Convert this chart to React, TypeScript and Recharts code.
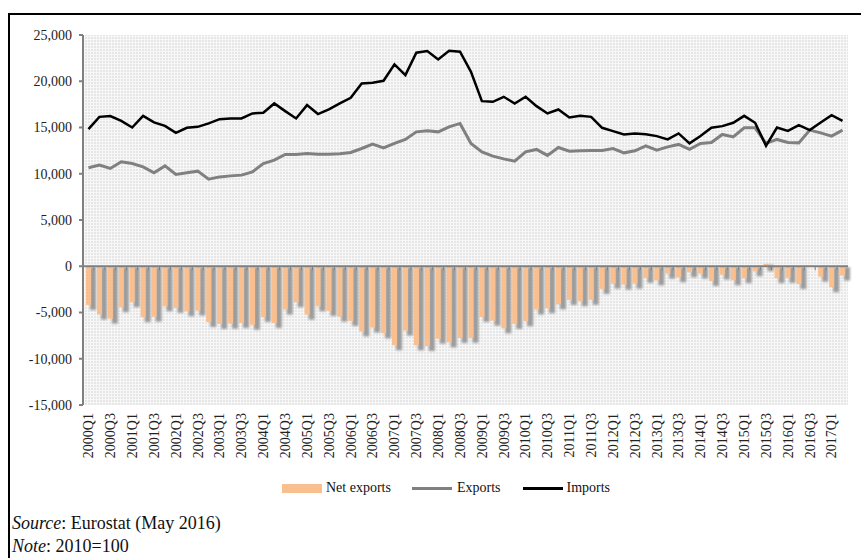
import { ComposedChart, Bar, Line, XAxis, YAxis, CartesianGrid, ReferenceLine } from 'recharts';

// quarterly series, 2000Q1 - 2017Q2
const quarters: string[] = [];
for (let y = 2000; y <= 2017; y++) {
  for (let q = 1; q <= 4; q++) {
    if (y === 2017 && q > 2) break;
    quarters.push(`${y}Q${q}`);
  }
}

const exportsValues = [
  10640, 10930, 10570, 11290, 11110, 10750, 10100, 10850, 9920, 10100,
  10280, 9410, 9660, 9770, 9850, 10200, 11110, 11470, 12090, 12090,
  12190, 12120, 12120, 12150, 12300, 12730, 13200, 12800, 13280, 13710,
  14530, 14640, 14530, 15070, 15440, 13280, 12370, 11900, 11610, 11360,
  12370, 12630, 11980, 12840, 12440, 12480, 12520, 12520, 12730, 12260,
  12480, 13020, 12550, 12910, 13170, 12630, 13280, 13380, 14250, 13990,
  14970, 14970, 13280, 13710, 13380, 13340, 14720, 14420, 14070, 14720,
];

const importsValues = [
  14820, 16150, 16230, 15720, 15000, 16260, 15550, 15180, 14420, 14970,
  15070, 15440, 15900, 15980, 15980, 16520, 16590, 17600, 16770, 15980,
  17420, 16450, 16950, 17600, 18210, 19770, 19830, 20050, 21820, 20670,
  23080, 23260, 22360, 23300, 23190, 21020, 17850, 17780, 18320, 17600,
  18320, 17310, 16520, 16950, 16090, 16260, 16150, 14970, 14610, 14250,
  14360, 14280, 14070, 13710, 14360, 13280, 14070, 14970, 15150, 15510,
  16260, 15510, 13020, 15000, 14640, 15260, 14720, 15550, 16340, 15720,
];

const netValues = [
  -4180, -5220, -5660, -4430, -3890, -5510, -5450, -4330, -4500, -4870,
  -4790, -6030, -6240, -6210, -6130, -6320, -5480, -6130, -4680, -3890,
  -5230, -4330, -4830, -5450, -5910, -7040, -6630, -7250, -8540, -6960,
  -8550, -8620, -7830, -8230, -7750, -7740, -5480, -5880, -6710, -6240,
  -5950, -4680, -4540, -4110, -3650, -3780, -3630, -2450, -1880, -1990,
  -1880, -1260, -1520, -800, -1190, -650, -790, -1590, -900, -1520,
  -1290, -540, 260, -1290, -1260, -1920, 0, -1130, -2270, -1000,
];

const yTicks = [-15000, -10000, -5000, 0, 5000, 10000, 15000, 20000, 25000];

const data = quarters.map((q, i) => ({
  q,
  net: netValues[i],
  exp: exportsValues[i],
  imp: importsValues[i],
}));

const FONT = '"Liberation Serif", "Times New Roman", serif';
const PLOT_LEFT = 83;
const PLOT_TOP = 35;
const PLOT_W = 765;
const PLOT_H = 370;
const BAND = PLOT_W / quarters.length;
const ZERO_Y = PLOT_TOP + (PLOT_H * yTicks[yTicks.length - 1]) / (yTicks[yTicks.length - 1] - yTicks[0]);

const BarShape = (p: any) => {
  const { x, y, width, height } = p;
  const h = Math.abs(height || 0);
  if (!h) return <g />;
  const top = Math.min(y, y + height);
  return (
    <g>
      <rect x={x + 4} y={top + 1} width={width + 1} height={h + 4} fill="#9c9c9c" filter="url(#shadow)" />
      <rect x={x} y={top} width={width} height={h} fill="#f9bf8f" />
    </g>
  );
};

const QuarterTick = (p: any) => {
  const { x, y, index, payload } = p;
  const bx = x - BAND / 2;
  return (
    <g>
      <line x1={bx} x2={bx} y1={ZERO_Y} y2={ZERO_Y + 4} stroke="#808080" strokeWidth={1} />
      {index % 2 === 0 && (
        <text
          x={x}
          y={y}
          transform={`rotate(-90, ${x}, ${y})`}
          textAnchor="end"
          dy="0.35em"
          fontSize={14}
          fontFamily={FONT}
          fill="#222"
        >
          {payload.value}
        </text>
      )}
    </g>
  );
};

export default function App() {
  return (
    <div style={{ position: 'absolute', left: 0, top: 0, width: 861, height: 558, overflow: 'hidden', background: '#fff' }}>
      <div
        style={{
          position: 'absolute',
          left: 8,
          top: 13,
          width: 853,
          height: 545,
          boxSizing: 'border-box',
          borderTop: '2px solid #000',
          borderLeft: '2px solid #000',
        }}
      />
      <div style={{ position: 'absolute', left: 0, top: 0 }}>
        <ComposedChart
          width={861}
          height={470}
          data={data}
          margin={{ top: PLOT_TOP, right: 861 - PLOT_LEFT - PLOT_W, bottom: 5, left: 0 }}
          barSize={5}
        >
          <defs>
            <pattern id="texture" width="3" height="3" patternUnits="userSpaceOnUse">
              <rect width="3" height="3" fill="#e6e6e6" />
              <rect width="3" height="1" fill="#f7f7f7" />
              <rect width="1" height="3" fill="#f7f7f7" />
            </pattern>
            <filter id="shadow" x="-100%" y="-20%" width="300%" height="140%">
              <feGaussianBlur stdDeviation="1.3" />
            </filter>
          </defs>
          <CartesianGrid horizontal={false} vertical={false} fill="url(#texture)" stroke="none" />
          <XAxis
            dataKey="q"
            interval={0}
            axisLine={false}
            tickLine={false}
            height={60}
            tick={<QuarterTick />}
          />
          <YAxis
            domain={[yTicks[0], yTicks[yTicks.length - 1]]}
            ticks={yTicks}
            width={PLOT_LEFT}
            tickSize={4}
            tickMargin={7}
            axisLine={{ stroke: '#808080', strokeWidth: 2 }}
            tickLine={{ stroke: '#808080', strokeWidth: 2 }}
            tick={{ fill: '#222', fontSize: 14, fontFamily: FONT }}
            tickFormatter={(v: number) => v.toLocaleString('en-US')}
            allowDataOverflow
          />
          <Bar dataKey="net" shape={<BarShape />} isAnimationActive={false} />
          <ReferenceLine y={0} stroke="#808080" strokeWidth={2} />
          <Line type="linear" dataKey="exp" stroke="#808080" strokeWidth={3} dot={false} isAnimationActive={false} />
          <Line type="linear" dataKey="imp" stroke="#000" strokeWidth={2.5} dot={false} isAnimationActive={false} />
        </ComposedChart>
      </div>
      <div style={{ position: 'absolute', top: 479, left: 282, fontFamily: FONT, fontSize: 14, color: '#111', display: 'flex', alignItems: 'center', height: 18 }}>
        <span style={{ display: 'inline-block', width: 40, height: 9, background: '#f9bf8f', marginRight: 4 }} />
        <span>Net exports</span>
        <span style={{ display: 'inline-block', width: 40, height: 3, background: '#808080', marginLeft: 21, marginRight: 5 }} />
        <span>Exports</span>
        <span style={{ display: 'inline-block', width: 40, height: 3, background: '#000', marginLeft: 22, marginRight: 4 }} />
        <span>Imports</span>
      </div>
      <div style={{ position: 'absolute', top: 512, left: 12, fontFamily: FONT, fontSize: 18, lineHeight: '23px', color: '#111' }}>
        <div><i>Source</i>: Eurostat (May 2016)</div>
        <div><i>Note</i>: 2010=100</div>
      </div>
    </div>
  );
}
